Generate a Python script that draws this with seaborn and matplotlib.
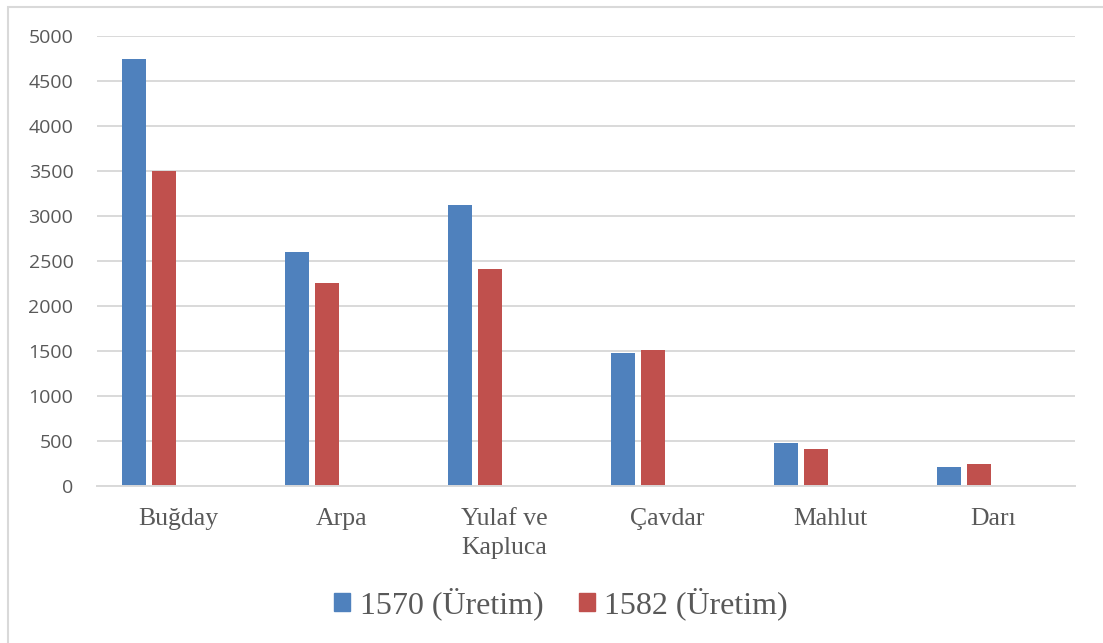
import pandas as pd
import matplotlib.pyplot as plt
import matplotlib.patches as mpatches
import seaborn as sns

# Data
categories = ['Buğday', 'Arpa', 'Yulaf ve\nKapluca', 'Çavdar', 'Mahlut', 'Darı']
uretim_1570 = [4740, 2600, 3120, 1480, 480, 215]
uretim_1582 = [3500, 2260, 2410, 1510, 415, 240]
series_names = ['1570 (Üretim)', '1582 (Üretim)', ' ', '  ']  # last two are empty slots
empty_series = [0, 0, 0, 0, 0, 0]

colors = ['#4F81BD', '#C0504D', '#FFFFFF', '#FFFFFF']

rows = []
for name, vals in zip(series_names, [uretim_1570, uretim_1582, empty_series, empty_series]):
    for cat, v in zip(categories, vals):
        rows.append({'kategori': cat, 'seri': name, 'deger': v})
df = pd.DataFrame(rows)

sns.set_theme(style="white")
plt.rcParams['font.family'] = ['Open Sans', 'DejaVu Sans']

fig = plt.figure(figsize=(11.03, 6.43), dpi=100)
ax = fig.add_axes([97 / 1103, 1 - 486 / 643, (1075 - 97) / 1103, (486 - 36) / 643])

sns.barplot(data=df, x='kategori', y='deger', hue='seri', hue_order=series_names,
            order=categories, palette=colors, saturation=1, width=0.736, gap=0.2,
            linewidth=0, legend=False, ax=ax)

ax.set_ylim(0, 5000)
ax.set_yticks(range(0, 5001, 500))
ax.yaxis.grid(True, color='#d9d9d9', linewidth=1.4)
ax.set_axisbelow(True)
for s in ['top', 'right', 'left']:
    ax.spines[s].set_visible(False)
ax.spines['bottom'].set_color('#d9d9d9')
ax.spines['bottom'].set_linewidth(1.4)
ax.set_xlabel('')
ax.set_ylabel('')
ax.tick_params(axis='y', length=0, pad=17, labelsize=14, labelcolor='#595959')
ax.tick_params(axis='x', length=0, pad=16, labelcolor='#595959')
for lbl in ax.get_xticklabels():
    lbl.set_family(['Liberation Serif', 'DejaVu Serif'])
    lbl.set_fontsize(18.5)
    lbl.set_linespacing(1.4)

# Legend with only the two real series
handles = [mpatches.Patch(color=colors[0], label=series_names[0]),
           mpatches.Patch(color=colors[1], label=series_names[1])]
leg = fig.legend(handles=handles, loc='center', bbox_to_anchor=(561 / 1103, 1 - 604 / 643),
                 ncol=2, frameon=False, handlelength=0.5, handleheight=0.5,
                 handletextpad=0.3, columnspacing=1.1,
                 prop={'family': ['Liberation Serif', 'DejaVu Serif'], 'size': 23})
for t in leg.get_texts():
    t.set_color('#595959')

# Chart border (light gray frame)
fig.patches.append(mpatches.Rectangle((8 / 1103, -0.05), 1.1, 1 - 7 / 643 + 0.05,
                                      transform=fig.transFigure, fill=False,
                                      edgecolor='#d9d9d9', linewidth=1.5))

fig.savefig('out.png', dpi=100)
